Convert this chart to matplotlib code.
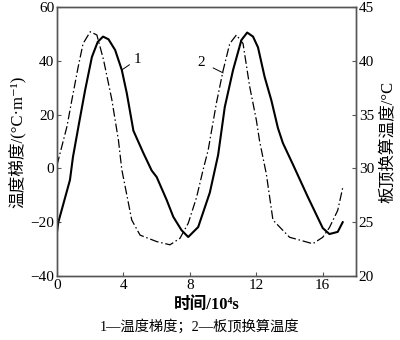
import matplotlib
matplotlib.use("Agg")
import matplotlib.pyplot as plt

plt.rcParams['font.family'] = ['Liberation Serif', 'Noto Sans CJK SC', 'DejaVu Sans']

# Series 1: temperature gradient (left axis)
grad_x = [0, 0.08, 0.78, 0.96, 1.33, 1.69, 2.1, 2.45, 2.77, 3.1, 3.5, 3.9, 4.2, 4.6,
          5.2, 5.7, 6.0, 6.6, 7.0, 7.5, 7.9, 8.5, 9.2, 9.7, 10.1, 10.6, 11.1, 11.45,
          11.8, 12.1, 12.5, 12.9, 13.3, 13.6, 14.2, 15.1, 16.0, 16.4, 16.9, 17.2]
grad_y = [-23.6, -20, -4.3, 4.2, 16.9, 29, 41.4, 47, 49, 48, 44, 36.6, 28, 14,
          5.7, -0.8, -3.2, -11.7, -18, -23, -25.5, -21.8, -9, 5, 22.8, 36.6, 47.7, 50.5,
          49, 45, 34, 25.4, 15, 9.4, 1.5, -10.6, -22.2, -24.4, -23.6, -20]

# Series 2: converted slab-top temperature (right axis)
temp_x = [0, 0.6, 0.9, 1.27, 1.57, 2.0, 2.4, 2.8, 3.3, 3.7, 3.9, 4.5, 5.0, 6.0, 6.8,
          7.4, 7.9, 8.4, 8.8, 9.1, 9.6, 10.0, 10.4, 10.8, 11.2, 11.6, 12.0, 12.2, 12.6,
          13.0, 14.0, 15.4, 16.0, 16.4, 16.9, 17.2]
temp_y = [30.3, 33.9, 36.4, 39.4, 41.6, 42.7, 42.4, 40.1, 36.4, 32.6, 29.9, 25.2, 23.8, 23.2, 22.9,
          23.5, 24.9, 27.3, 29.9, 31.7, 36.1, 39.1, 41.6, 42.4, 41.6, 37.6, 34.5, 32.5, 29.5,
          25.2, 23.6, 23.0, 23.6, 24.5, 26.1, 28.2]

x_ticks = [0, 4, 8, 12, 16]
left_ticks = [-40, -20, 0, 20, 40, 60]
right_ticks = [20, 25, 30, 35, 40, 45]

fig = plt.figure(figsize=(4.0, 3.4), dpi=100)
ax = fig.add_axes([57/400, 1-276/340, (356-57)/400, (276-7)/340])
ax2 = ax.twinx()

ax.plot(grad_x, grad_y, color='black', lw=1.5, solid_joinstyle='round')
ax2.plot(temp_x, temp_y, color='black', lw=0.9, linestyle=(0, (7, 2.2, 1.2, 2.2)))

ax.set_xlim(0, 18)
ax.set_ylim(-40, 60)
ax2.set_ylim(20, 45)
ax.set_xticks(x_ticks)
ax.set_yticks(left_ticks)
ax2.set_yticks(right_ticks)

for a in (ax, ax2):
    a.tick_params(direction='in', length=3, width=0.8, labelsize=11, pad=2, color='#555555')
    for s in a.spines.values():
        s.set_linewidth(1.0)
        s.set_color('#555555')

ax.set_ylabel('温度梯度/(°C·m⁻¹)', fontsize=12, labelpad=3)
ax2.set_ylabel('板顶换算温度/°C', fontsize=12, labelpad=5)
ax.set_xlabel('时间/10⁴s', fontsize=12, fontweight='bold', labelpad=4)

# curve labels with leader lines
ax.annotate('1', xy=(3.9, 36.6), xytext=(4.6, 40.5), fontsize=11,
            ha='left', va='center',
            arrowprops=dict(arrowstyle='-', lw=0.7, color='black', shrinkA=1, shrinkB=0))
ax.annotate('2', xy=(10.0, 35.5), xytext=(8.7, 39.5), fontsize=11,
            ha='center', va='center',
            arrowprops=dict(arrowstyle='-', lw=0.7, color='black', shrinkA=4, shrinkB=0))

fig.text(0.5, 1-326/340, '1—温度梯度；2—板顶换算温度', ha='center', va='center', fontsize=10.3)

fig.savefig('out.png', dpi=100)
